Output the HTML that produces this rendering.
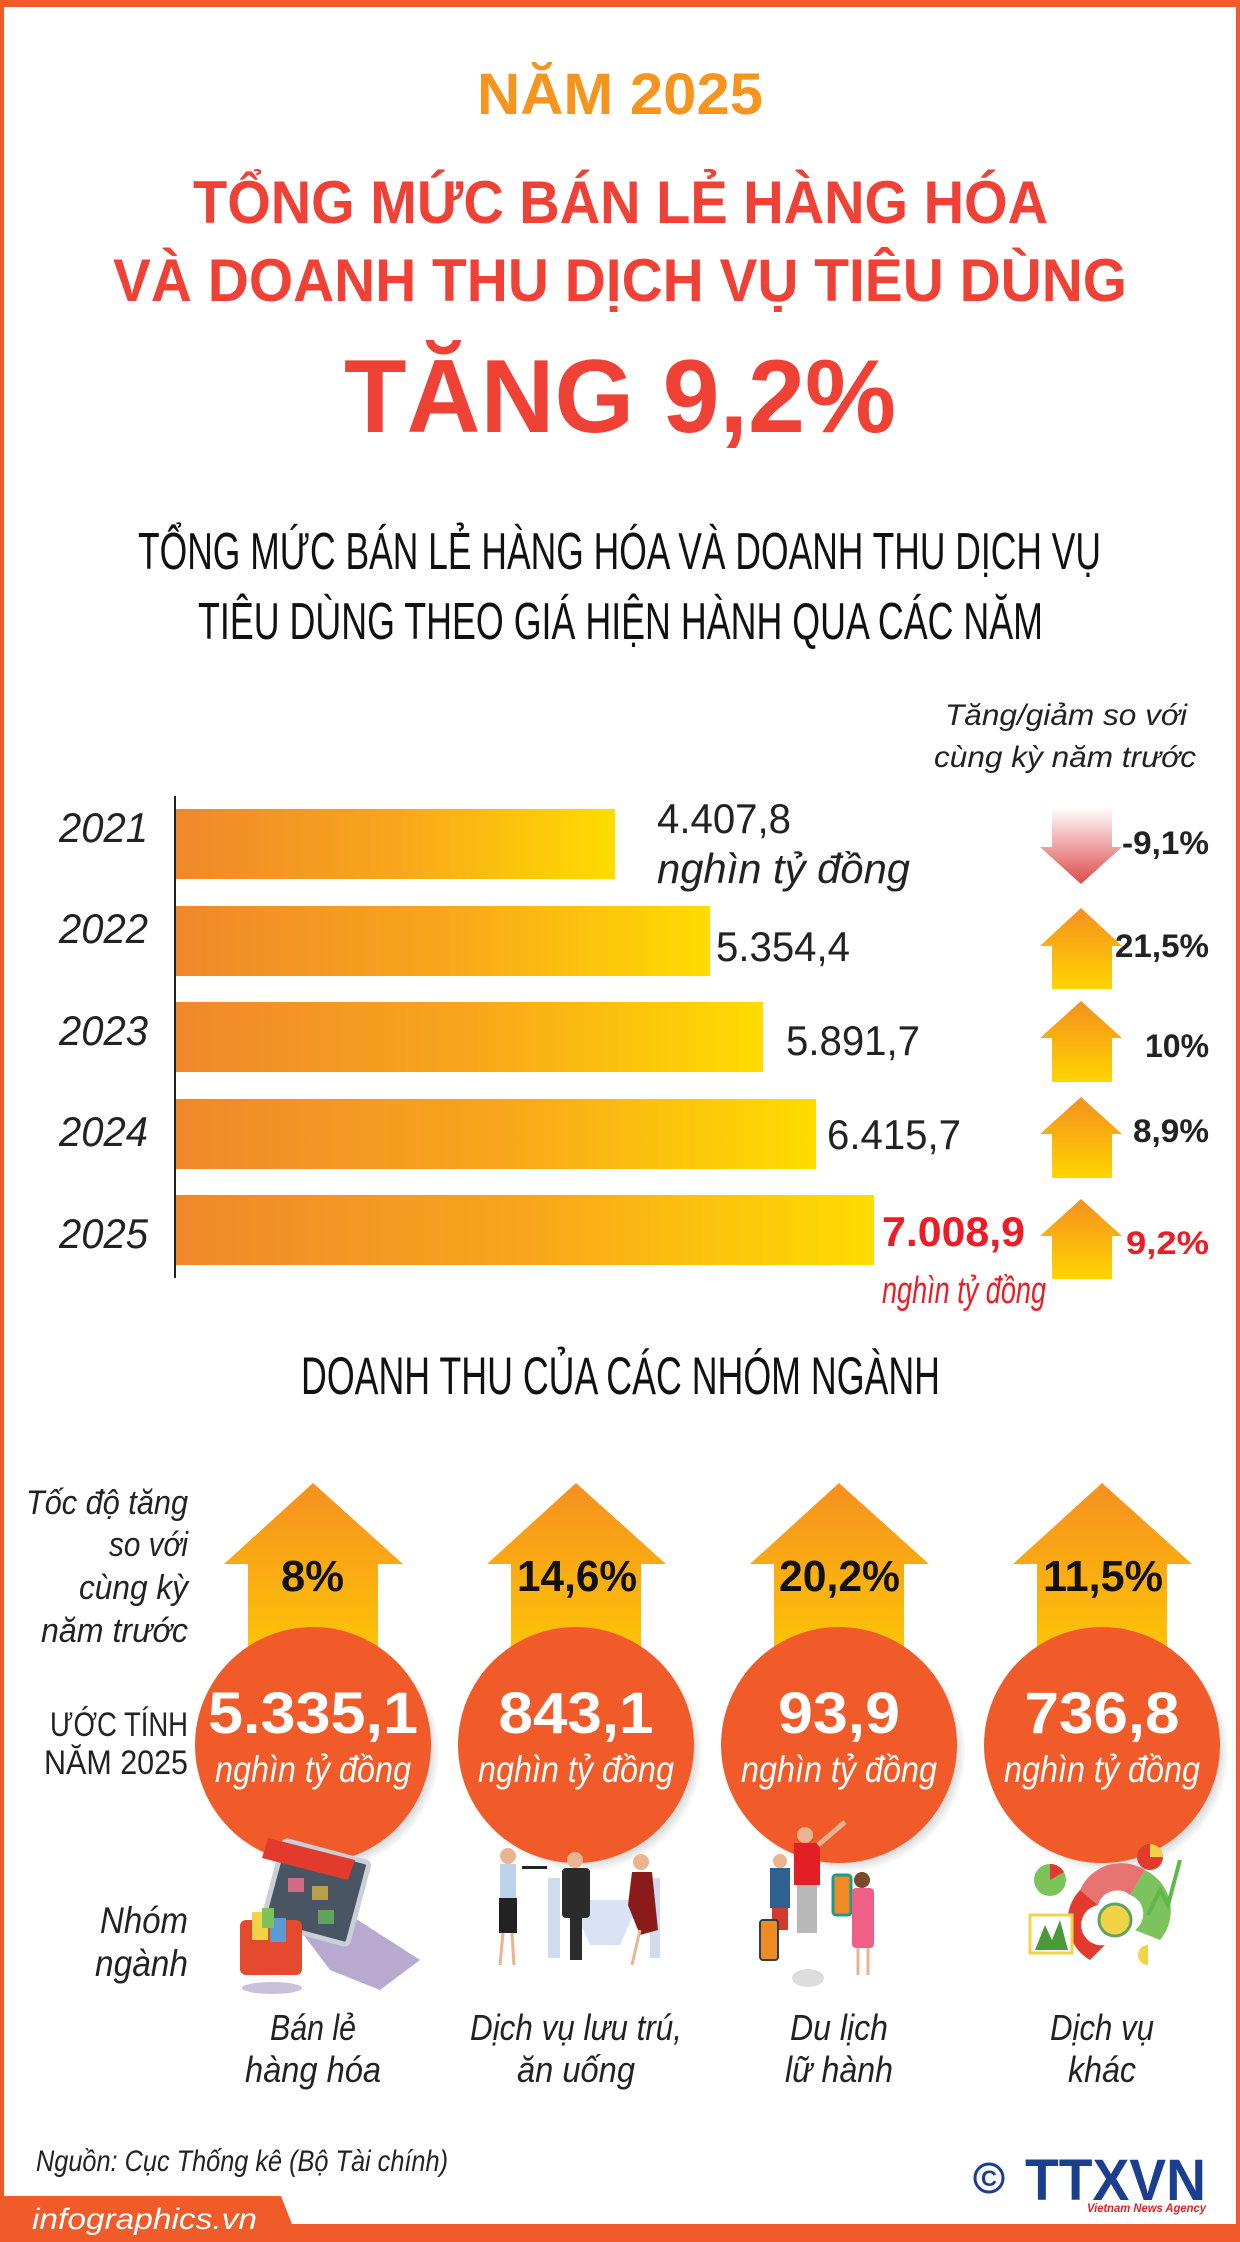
<!DOCTYPE html>
<html><head><meta charset="utf-8"><style>
html,body{margin:0;padding:0;background:#fff}
svg{display:block}
text{font-family:"Liberation Sans Narrow","Liberation Sans",sans-serif}
</style></head><body>
<svg width="1240" height="2242" viewBox="0 0 1240 2242" xmlns="http://www.w3.org/2000/svg">
<defs>
<linearGradient id="bar" x1="0" x2="1" y1="0" y2="0"><stop offset="0" stop-color="#f0882a"/><stop offset="0.5" stop-color="#f8a61c"/><stop offset="1" stop-color="#ffdc00"/></linearGradient>
<linearGradient id="up" x1="0" x2="0" y1="0" y2="1"><stop offset="0" stop-color="#f6901f"/><stop offset="1" stop-color="#ffd400"/></linearGradient>
<linearGradient id="down" x1="0" x2="0" y1="0" y2="1"><stop offset="0" stop-color="#ffffff"/><stop offset="1" stop-color="#dd4a4a"/></linearGradient>
<radialGradient id="sh" cx="0.5" cy="0.5" r="0.5"><stop offset="0.85" stop-color="#999" stop-opacity="0.6"/><stop offset="1" stop-color="#999" stop-opacity="0"/></radialGradient>
</defs>
<rect x="0" y="0" width="1240" height="2242" fill="#fff"/>
<rect x="0" y="0" width="1240" height="7" fill="#f15a29"/>
<rect x="0" y="0" width="4" height="2242" fill="#f15a29"/>
<rect x="1236" y="0" width="4" height="2242" fill="#f15a29"/>

<!-- titles -->
<text x="477" y="114" font-size="58" font-weight="bold" fill="#f7941d" textLength="286" lengthAdjust="spacingAndGlyphs">NĂM 2025</text>
<text x="193" y="223" font-size="60" font-weight="bold" fill="#ef4136" textLength="855" lengthAdjust="spacingAndGlyphs">TỔNG MỨC BÁN LẺ HÀNG HÓA</text>
<text x="113" y="301" font-size="60" font-weight="bold" fill="#ef4136" textLength="1014" lengthAdjust="spacingAndGlyphs">VÀ DOANH THU DỊCH VỤ TIÊU DÙNG</text>
<text x="344" y="432" font-size="104" font-weight="bold" fill="#ef4136" textLength="552" lengthAdjust="spacingAndGlyphs">TĂNG 9,2%</text>
<text x="138" y="569" font-size="52" fill="#111" textLength="963" lengthAdjust="spacingAndGlyphs">TỔNG MỨC BÁN LẺ HÀNG HÓA VÀ DOANH THU DỊCH VỤ</text>
<text x="198" y="639" font-size="52" fill="#111" textLength="845" lengthAdjust="spacingAndGlyphs">TIÊU DÙNG THEO GIÁ HIỆN HÀNH QUA CÁC NĂM</text>

<!-- bar chart -->
<text x="945" y="725" font-size="30" font-style="italic" fill="#222" textLength="242" lengthAdjust="spacingAndGlyphs">Tăng/giảm so với</text>
<text x="934" y="767" font-size="30" font-style="italic" fill="#222" textLength="262" lengthAdjust="spacingAndGlyphs">cùng kỳ năm trước</text>
<line x1="175" y1="796" x2="175" y2="1278" stroke="#222" stroke-width="2"/>
<rect x="176" y="809" width="439" height="70" fill="url(#bar)"/>
<rect x="176" y="906" width="534" height="70" fill="url(#bar)"/>
<rect x="176" y="1002" width="587" height="70" fill="url(#bar)"/>
<rect x="176" y="1099" width="640" height="70" fill="url(#bar)"/>
<rect x="176" y="1195" width="698" height="70" fill="url(#bar)"/>
<g font-size="42" font-style="italic" fill="#222">
<text x="59" y="842" textLength="89" lengthAdjust="spacingAndGlyphs">2021</text>
<text x="59" y="943" textLength="89" lengthAdjust="spacingAndGlyphs">2022</text>
<text x="59" y="1045" textLength="89" lengthAdjust="spacingAndGlyphs">2023</text>
<text x="59" y="1146" textLength="89" lengthAdjust="spacingAndGlyphs">2024</text>
<text x="59" y="1248" textLength="89" lengthAdjust="spacingAndGlyphs">2025</text>
</g>
<g font-size="42" fill="#222">
<text x="657" y="833" textLength="134" lengthAdjust="spacingAndGlyphs">4.407,8</text>
<text x="716" y="961" textLength="134" lengthAdjust="spacingAndGlyphs">5.354,4</text>
<text x="786" y="1055" textLength="134" lengthAdjust="spacingAndGlyphs">5.891,7</text>
<text x="827" y="1149" textLength="134" lengthAdjust="spacingAndGlyphs">6.415,7</text>
</g>
<text x="657" y="883" font-size="42" font-style="italic" fill="#222" textLength="253" lengthAdjust="spacingAndGlyphs">nghìn tỷ đồng</text>
<text x="882" y="1246" font-size="42" font-weight="bold" fill="#ee1c25" textLength="143" lengthAdjust="spacingAndGlyphs">7.008,9</text>
<text x="882" y="1303" font-size="38" font-style="italic" fill="#ee1c25" textLength="164" lengthAdjust="spacingAndGlyphs">nghìn tỷ đồng</text>

<polygon points="1052,807 1112,807 1112,847 1122,847 1081,884 1040,847 1052,847" fill="url(#down)"/>
<polygon points="1081,908 1122,946 1112,946 1112,989 1052,989 1052,946 1040,946" fill="url(#up)"/>
<polygon points="1081,1001 1122,1038 1112,1038 1112,1082 1052,1082 1052,1038 1040,1038" fill="url(#up)"/>
<polygon points="1081,1097 1122,1134 1112,1134 1112,1178 1052,1178 1052,1134 1040,1134" fill="url(#up)"/>
<polygon points="1081,1199 1122,1236 1112,1236 1112,1279 1052,1279 1052,1236 1040,1236" fill="url(#up)"/>
<g font-size="32" font-weight="bold" fill="#222">
<text x="1122" y="854" textLength="87" lengthAdjust="spacingAndGlyphs">-9,1%</text>
<text x="1115" y="957" textLength="94" lengthAdjust="spacingAndGlyphs">21,5%</text>
<text x="1145" y="1057" textLength="64" lengthAdjust="spacingAndGlyphs">10%</text>
<text x="1133" y="1142" textLength="76" lengthAdjust="spacingAndGlyphs">8,9%</text>
<text x="1126" y="1254" fill="#ee1c25" textLength="83" lengthAdjust="spacingAndGlyphs">9,2%</text>
</g>

<text x="301" y="1394" font-size="53" fill="#111" textLength="639" lengthAdjust="spacingAndGlyphs">DOANH THU CỦA CÁC NHÓM NGÀNH</text>

<!-- left labels -->
<g font-size="34" font-style="italic" fill="#222">
<text x="26" y="1514" textLength="162" lengthAdjust="spacingAndGlyphs">Tốc độ tăng</text>
<text x="109" y="1556" textLength="79" lengthAdjust="spacingAndGlyphs">so với</text>
<text x="79" y="1599" textLength="109" lengthAdjust="spacingAndGlyphs">cùng kỳ</text>
<text x="41" y="1642" textLength="147" lengthAdjust="spacingAndGlyphs">năm trước</text>
<text x="100" y="1933" font-size="37" textLength="88" lengthAdjust="spacingAndGlyphs">Nhóm</text>
<text x="95" y="1976" font-size="37" textLength="93" lengthAdjust="spacingAndGlyphs">ngành</text>
</g>
<g font-size="34" fill="#222">
<text x="50" y="1736" textLength="138" lengthAdjust="spacingAndGlyphs">ƯỚC TÍNH</text>
<text x="44" y="1774" textLength="144" lengthAdjust="spacingAndGlyphs">NĂM 2025</text>
</g>

<!-- columns -->
<g>
<polygon points="313,1483 403,1564 378,1564 378,1700 248,1700 248,1564 224,1564" fill="url(#up)"/>
<polygon points="576,1483 666,1564 641,1564 641,1700 511,1700 511,1564 487,1564" fill="url(#up)"/>
<polygon points="839,1483 929,1564 904,1564 904,1700 774,1700 774,1564 750,1564" fill="url(#up)"/>
<polygon points="1102,1483 1192,1564 1167,1564 1167,1700 1037,1700 1037,1564 1013,1564" fill="url(#up)"/>
</g>
<g font-size="44" font-weight="bold" fill="#111">
<text x="281" y="1591" textLength="63" lengthAdjust="spacingAndGlyphs">8%</text>
<text x="517" y="1591" textLength="120" lengthAdjust="spacingAndGlyphs">14,6%</text>
<text x="779" y="1591" textLength="121" lengthAdjust="spacingAndGlyphs">20,2%</text>
<text x="1043" y="1591" textLength="120" lengthAdjust="spacingAndGlyphs">11,5%</text>
</g>
<g>
<circle cx="320" cy="1752" r="120" fill="url(#sh)"/>
<circle cx="583" cy="1752" r="120" fill="url(#sh)"/>
<circle cx="846" cy="1752" r="120" fill="url(#sh)"/>
<circle cx="1109" cy="1752" r="120" fill="url(#sh)"/>
<circle cx="313" cy="1745" r="118" fill="#f15a29"/>
<circle cx="576" cy="1745" r="118" fill="#f15a29"/>
<circle cx="839" cy="1745" r="118" fill="#f15a29"/>
<circle cx="1102" cy="1745" r="118" fill="#f15a29"/>
</g>
<g font-size="58" font-weight="bold" fill="#fff" text-anchor="middle">
<text x="313" y="1733" textLength="210" lengthAdjust="spacingAndGlyphs">5.335,1</text>
<text x="576" y="1733" textLength="155" lengthAdjust="spacingAndGlyphs">843,1</text>
<text x="839" y="1733" textLength="122" lengthAdjust="spacingAndGlyphs">93,9</text>
<text x="1102" y="1733" textLength="155" lengthAdjust="spacingAndGlyphs">736,8</text>
</g>
<g font-size="37" font-style="italic" fill="#fff" text-anchor="middle">
<text x="313" y="1782" textLength="196" lengthAdjust="spacingAndGlyphs">nghìn tỷ đồng</text>
<text x="576" y="1782" textLength="196" lengthAdjust="spacingAndGlyphs">nghìn tỷ đồng</text>
<text x="839" y="1782" textLength="196" lengthAdjust="spacingAndGlyphs">nghìn tỷ đồng</text>
<text x="1102" y="1782" textLength="196" lengthAdjust="spacingAndGlyphs">nghìn tỷ đồng</text>
</g>

<!-- icon: shop -->
<g>
<polygon points="300,1930 350,1915 420,1960 380,1990 330,1970" fill="#b8a9d0"/>
<rect x="272" y="1850" width="88" height="85" rx="4" fill="#4a5563" stroke="#c9d0d8" stroke-width="5" transform="rotate(15 316 1892)"/>
<polygon points="268,1838 355,1860 348,1880 262,1858" fill="#e23b2e"/>
<rect x="288" y="1878" width="16" height="14" fill="#d36a86"/><rect x="312" y="1886" width="16" height="14" fill="#b9a04a"/><rect x="318" y="1910" width="16" height="14" fill="#5fa45a"/>
<rect x="240" y="1920" width="62" height="55" rx="6" fill="#e64a2e"/>
<rect x="252" y="1912" width="16" height="28" fill="#f2d348"/><rect x="270" y="1918" width="16" height="24" fill="#5b9bd5"/><rect x="262" y="1908" width="12" height="20" fill="#7cc35b"/>
<ellipse cx="272" cy="1988" rx="30" ry="6" fill="#c9c0dc"/>
</g>
<!-- icon: restaurant -->
<g>
<circle cx="508" cy="1856" r="8" fill="#e9b48f"/><rect x="500" y="1864" width="16" height="34" fill="#bcd3ee"/><rect x="499" y="1898" width="18" height="35" fill="#222"/>
<line x1="503" y1="1933" x2="500" y2="1965" stroke="#e9b48f" stroke-width="3"/><line x1="512" y1="1933" x2="514" y2="1965" stroke="#e9b48f" stroke-width="3"/>
<rect x="522" y="1866" width="25" height="3" fill="#222"/>
<rect x="548" y="1878" width="12" height="80" fill="#cfdcf0"/><rect x="650" y="1878" width="10" height="80" fill="#cfdcf0"/>
<polygon points="570,1900 640,1900 620,1945 590,1945" fill="#d9e3f5"/>
<circle cx="575" cy="1860" r="8" fill="#e9b48f"/><rect x="562" y="1868" width="28" height="50" rx="4" fill="#2b2b2b"/><rect x="570" y="1915" width="12" height="45" fill="#2b2b2b"/>
<circle cx="641" cy="1862" r="8" fill="#e9b48f"/><polygon points="632,1872 652,1872 658,1930 640,1935 628,1905" fill="#8a1b1b"/>
<line x1="640" y1="1930" x2="632" y2="1965" stroke="#e9b48f" stroke-width="3"/>
</g>
<!-- icon: travel -->
<g>
<ellipse cx="808" cy="1978" rx="16" ry="9" fill="#ddd"/>
<circle cx="805" cy="1835" r="8" fill="#e9b48f"/><rect x="794" y="1843" width="26" height="42" fill="#e31e24"/><rect x="797" y="1885" width="20" height="48" fill="#b8b8b8"/>
<line x1="818" y1="1845" x2="845" y2="1822" stroke="#e9b48f" stroke-width="5"/>
<circle cx="780" cy="1861" r="7" fill="#e9b48f"/><rect x="770" y="1868" width="20" height="40" fill="#2f6190"/><rect x="772" y="1908" width="16" height="22" fill="#d23a2e"/>
<rect x="760" y="1920" width="18" height="40" rx="3" fill="#f08a24" stroke="#2c3e50" stroke-width="2"/>
<rect x="833" y="1875" width="18" height="40" rx="3" fill="#f08a24" stroke="#1e9b8f" stroke-width="3"/>
<circle cx="862" cy="1880" r="8" fill="#7a4a2a"/><rect x="852" y="1888" width="22" height="60" rx="4" fill="#ef5f86"/>
<line x1="858" y1="1948" x2="858" y2="1975" stroke="#e9b48f" stroke-width="3"/><line x1="868" y1="1948" x2="868" y2="1975" stroke="#e9b48f" stroke-width="3"/>
</g>
<!-- icon: business -->
<g>
<circle cx="1050" cy="1880" r="16" fill="#7cc35b"/><path d="M1050 1880 L1050 1864 A16 16 0 0 1 1064 1872 Z" fill="#e23b2e"/>
<path d="M1080 1890 A45 45 0 0 1 1145 1870 L1130 1895 A20 20 0 0 0 1098 1905 Z" fill="#e87373"/>
<path d="M1080 1890 L1098 1905 A20 20 0 0 0 1105 1945 L1090 1960 A45 45 0 0 1 1080 1890 Z" fill="#e23b2e"/>
<path d="M1145 1870 A45 45 0 0 1 1160 1940 L1135 1930 A20 20 0 0 0 1130 1895 Z" fill="#7cc35b"/>
<circle cx="1115" cy="1920" r="16" fill="#f2d348" stroke="#5fa45a" stroke-width="3"/>
<circle cx="1150" cy="1857" r="13" fill="#e23b2e"/><path d="M1150 1857 L1150 1844 A13 13 0 0 1 1163 1857 Z" fill="#f2d348"/>
<rect x="1030" y="1915" width="42" height="38" fill="#fff" stroke="#f2d348" stroke-width="3"/><polygon points="1035,1950 1045,1925 1052,1940 1060,1920 1068,1950" fill="#4a9a3a"/>
<polyline points="1148,1915 1160,1890 1168,1905 1180,1860" fill="none" stroke="#5fb84a" stroke-width="4"/>
<path d="M1148 1965 A10 10 0 0 1 1148 1945 Z" fill="#f2d348"/>
</g>

<!-- category labels -->
<g font-size="36" font-style="italic" fill="#222" text-anchor="middle">
<text x="313" y="2040" textLength="86" lengthAdjust="spacingAndGlyphs">Bán lẻ</text>
<text x="313" y="2082" textLength="136" lengthAdjust="spacingAndGlyphs">hàng hóa</text>
<text x="576" y="2040" textLength="212" lengthAdjust="spacingAndGlyphs">Dịch vụ lưu trú,</text>
<text x="576" y="2082" textLength="118" lengthAdjust="spacingAndGlyphs">ăn uống</text>
<text x="839" y="2040" textLength="98" lengthAdjust="spacingAndGlyphs">Du lịch</text>
<text x="839" y="2082" textLength="108" lengthAdjust="spacingAndGlyphs">lữ hành</text>
<text x="1102" y="2040" textLength="104" lengthAdjust="spacingAndGlyphs">Dịch vụ</text>
<text x="1102" y="2082" textLength="68" lengthAdjust="spacingAndGlyphs">khác</text>
</g>

<text x="36" y="2171" font-size="30" font-style="italic" fill="#222" textLength="412" lengthAdjust="spacingAndGlyphs">Nguồn: Cục Thống kê (Bộ Tài chính)</text>

<!-- logo -->
<circle cx="989" cy="2178" r="14" fill="none" stroke="#1b3f8f" stroke-width="3"/>
<text x="989" y="2186" font-size="22" font-weight="bold" fill="#1b3f8f" text-anchor="middle">C</text>
<text x="1025" y="2200" font-size="58" font-weight="bold" fill="#1b3f8f" textLength="181" lengthAdjust="spacingAndGlyphs">TTXVN</text>
<text x="1087" y="2212" font-size="12" font-weight="bold" font-style="italic" fill="#e31e24" textLength="119" lengthAdjust="spacingAndGlyphs">Vietnam News Agency</text>

<!-- bottom bar -->
<rect x="0" y="2224" width="1240" height="18" fill="#f15a29"/>
<polygon points="0,2196 281,2196 299,2242 0,2242" fill="#f15a29"/>
<text x="32" y="2229" font-size="30" font-style="italic" fill="#fff" textLength="225" lengthAdjust="spacingAndGlyphs">infographics.vn</text>
</svg>
</body></html>
